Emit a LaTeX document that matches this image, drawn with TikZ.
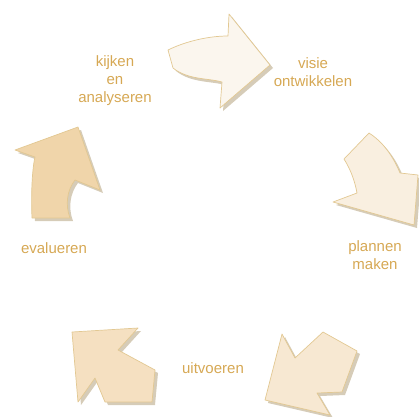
\documentclass[tikz,border=0pt]{standalone}
\usepackage{fontspec}
\setmainfont{Liberation Sans}
\usepackage{tikz}

\definecolor{rand}{RGB}{226,200,146}
\definecolor{schaduwkleur}{RGB}{214,204,184}
\definecolor{tekstkleur}{RGB}{214,168,84}
\definecolor{kleurA}{RGB}{251,246,238}
\definecolor{kleurB}{RGB}{249,239,224}
\definecolor{kleurC}{RGB}{247,232,210}
\definecolor{kleurD}{RGB}{245,224,193}
\definecolor{kleurE}{RGB}{240,213,170}

\tikzset{
  pijl/.style={draw=rand, line width=0.7pt, line join=round},
  schaduw/.style={fill=schaduwkleur, shift={(3,3)}},
  tekst/.style={text=tekstkleur, font=\fontsize{15}{18}\selectfont, align=center, inner sep=0pt}
}

\newcommand{\pijlA}{(168,50) .. controls (182,43) and (205,36) .. (228,36) -- (229,14) -- (270,65) -- (220,108) -- (222,82) .. controls (208,78) and (188,80) .. (173,68) -- cycle}
\newcommand{\pijlB}{(369,133) -- (344,159) .. controls (351,170) and (355,182) .. (357,193) -- (333,202) -- (414,225) -- (418,175) -- (400,173) .. controls (393,156) and (383,142) .. (369,133) -- cycle}
\newcommand{\pijlC}{(282,334) -- (295,358) -- (323,332) -- (357,351) -- (342,392) -- (317,393) -- (330,415) -- (265,400) -- cycle}
\newcommand{\pijlD}{(72,332) -- (138,328) -- (118,350) -- (155,370) -- (152,402) -- (105,402) -- (95,378) -- (78,402) -- cycle}
\newcommand{\pijlE}{(78,127) -- (100,190) -- (75,180) .. controls (67,190) and (65,205) .. (70,218) -- (32,218) .. controls (31,195) and (32,170) .. (35,157) -- (15,150) -- cycle}

\begin{document}
\begin{tikzpicture}[x=1pt,y=-1pt]

\useasboundingbox (0,0) rectangle (419,416);

%schaduwen
\fill [schaduw] \pijlA; \fill [schaduw] \pijlB; \fill [schaduw] \pijlC;
\fill [schaduw] \pijlD; \fill [schaduw] \pijlE;

%pijlen
\draw [pijl, fill=kleurA] \pijlA;
\draw [pijl, fill=kleurB] \pijlB;
\draw [pijl, fill=kleurC] \pijlC;
\draw [pijl, fill=kleurD] \pijlD;
\draw [pijl, fill=kleurE] \pijlE;

%teksten
\node [tekst] (kijken) at (115,81) {kijken\\en\\analyseren};
\node [tekst] (visie) at (313,72) {visie\\ontwikkelen};
\node [tekst] (plannen) at (375,255) {plannen\\maken};
\node [tekst] (uitvoeren) at (213,368) {uitvoeren};
\node [tekst] (evalueren) at (54,248) {evalueren};

\end{tikzpicture}
\end{document}
